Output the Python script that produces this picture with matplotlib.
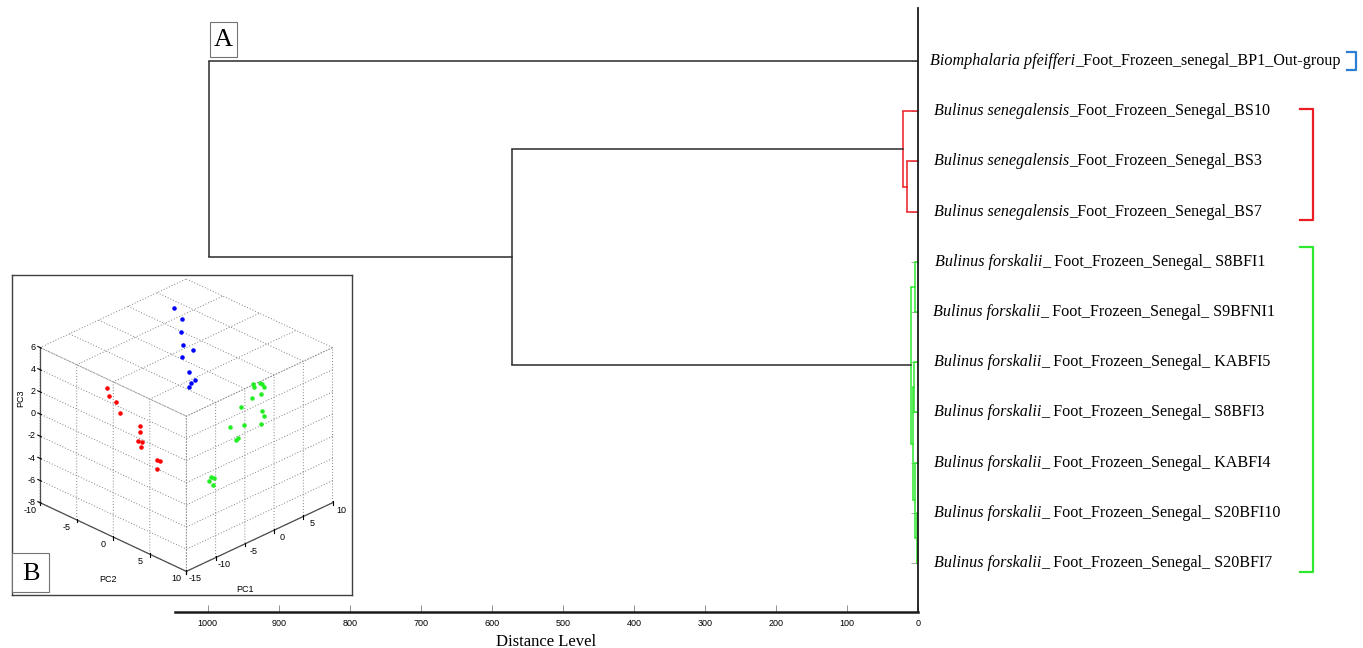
import numpy as np
import matplotlib
matplotlib.use("Agg")
import matplotlib.pyplot as plt
from matplotlib import transforms
from matplotlib.patches import Rectangle
from matplotlib.lines import Line2D
from matplotlib.ticker import NullFormatter
from mpl_toolkits.mplot3d import proj3d

plt.rcParams['font.family'] = ['Liberation Sans', 'DejaVu Sans']
plt.rcParams['axes.unicode_minus'] = False

W, H = 1363, 648
SERIF = 'Liberation Serif'

# leaves of the dendrogram, top to bottom (italic part + plain part)
species = ["Biomphalaria pfeifferi",
           "Bulinus senegalensis", "Bulinus senegalensis", "Bulinus senegalensis",
           "Bulinus forskalii", "Bulinus forskalii", "Bulinus forskalii",
           "Bulinus forskalii", "Bulinus forskalii", "Bulinus forskalii",
           "Bulinus forskalii"]
suffixes = ["_Foot_Frozeen_senegal_BP1_Out-group",
            "_Foot_Frozeen_Senegal_BS10", "_Foot_Frozeen_Senegal_BS3",
            "_Foot_Frozeen_Senegal_BS7",
            "_ Foot_Frozeen_Senegal_ S8BFI1", "_ Foot_Frozeen_Senegal_ S9BFNI1",
            "_ Foot_Frozeen_Senegal_ KABFI5", "_ Foot_Frozeen_Senegal_ S8BFI3",
            "_ Foot_Frozeen_Senegal_ KABFI4", "_ Foot_Frozeen_Senegal_ S20BFI10",
            "_ Foot_Frozeen_Senegal_ S20BFI7"]

# merges: (child a, child b, distance level, colour); ids >= 11 are earlier merges
merges = [
    (2, 3, 16.0, 'red'),      # 11
    (1, 11, 21.5, 'red'),     # 12
    (4, 5, 4.0, 'green'),     # 13
    (6, 7, 5.5, 'green'),     # 14
    (9, 10, 1.5, 'green'),    # 15
    (8, 15, 4.5, 'green'),    # 16
    (14, 16, 7.5, 'green'),   # 17
    (13, 17, 10.3, 'green'),  # 18
    (12, 18, 572.0, 'black'), # 19
    (0, 19, 998.0, 'black'),  # 20
]
distance_ticks = [1000, 900, 800, 700, 600, 500, 400, 300, 200, 100, 0]

# PCA scores (inset B)
pc1_blue = [6.55, 5.1, 2.75, 0.5, 0.4, -1.7, -3.9, -5.7, -4.85, -6.6]
pc2_blue = [-8.9, -6.7, -4.9, -2.9, -1.45, -1.2, 1.5, 3.2, 3.05, 3.6]
pc3_blue = [4.6, 4.6, 4.6, 4.6, 4.6, 4.6, 4.6, 4.6, 4.6, 4.6]

pc1_red = [-12.5, -12.5, -12.5, -12.5, -12.5, -12.5, -12.5, -12.5, -12.5, -12.5, -12.5, -12.5]
pc2_red = [-2.9, -2.55, -1.6, -1.1, 1.65, 1.65, 1.45, 1.95, 1.8, 4.0, 4.35, 4.0]
pc3_red = [3.9, 3.3, 3.1, 2.25, 1.9, 1.35, 0.5, 0.6, 0.1, -0.45, -0.4, -1.2]

pc1_green = [-1.05, -0.9, 0.1, 0.4, 0.7, -1.2, 0.3, -3.2, 0.5, 0.7, -2.6, -5.1,
             0.2, -3.7, -3.95, -8.3, -7.85, -8.7, -7.95]
pc2_green = [8, 8, 8, 8, 8, 8, 8, 8, 8, 8, 8, 8, 8, 8, 8, 8, 8, 8, 8]
pc3_green = [4.8, 4.5, 4.65, 4.5, 4.15, 3.6, 3.55, 3.25, 2.0, 1.5, 1.5, 1.95,
             0.95, 0.65, 0.5, -1.8, -1.95, -2.05, -2.6]

pc1_ticks = [-15, -10, -5, 0, 5, 10]
pc2_ticks = [-10, -5, 0, 5, 10]
pc3_ticks = [-8, -6, -4, -2, 0, 2, 4, 6]

colors = {'black': '#2b2b2b', 'red': '#ec1c24', 'green': '#2ee82e', 'blue': '#2a7fd4'}

fig = plt.figure(figsize=(W / 100, H / 100), dpi=100)

# ---- dendrogram (A)
ax = fig.add_axes([175 / W, 1 - 612 / H, 743 / W, 604 / H])
n = len(species)
ypos = {i: float(i) for i in range(n)}
xpos = {i: 0.0 for i in range(n)}
for k, (a, b, d, c) in enumerate(merges):
    col = colors[c]
    ax.plot([d, d], [ypos[a], ypos[b]], color=col, lw=1.1, solid_capstyle='butt')
    ax.plot([d, xpos[a]], [ypos[a], ypos[a]], color=col, lw=1.1)
    ax.plot([d, xpos[b]], [ypos[b], ypos[b]], color=col, lw=1.1)
    ypos[n + k] = (ypos[a] + ypos[b]) / 2
    xpos[n + k] = d

ax.set_xlim(1046, 0)
ax.set_ylim(n - 1 + 0.976, -1.056)
for s in ['left', 'top']:
    ax.spines[s].set_visible(False)
ax.spines['right'].set_color('#1a1a1a')
ax.spines['right'].set_linewidth(1.3)
ax.spines['bottom'].set_color('#1a1a1a')
ax.spines['bottom'].set_linewidth(1.8)
ax.set_xticks(distance_ticks)
ax.tick_params(axis='x', direction='in', length=5, width=0.6, color='0.5',
               labelsize=6.5, pad=5)
ax.set_yticks(range(n))
ax.tick_params(axis='y', left=False, right=True, direction='in', length=5,
               width=0.6, color='0.6', labelleft=False, labelright=False)
ax.set_xlabel("Distance Level", family=SERIF, fontsize=12, labelpad=4)

offsets = [12, 16, 16, 16, 17, 15, 16, 16, 16, 16, 16]
for i in range(n):
    t1 = ax.annotate(species[i], xy=(0, i), xycoords='data',
                     xytext=(offsets[i] * 0.72, 0), textcoords='offset points',
                     va='center', ha='left', fontstyle='italic', family=SERIF,
                     fontsize=11.65, annotation_clip=False)
    ax.annotate(suffixes[i], xy=(1, 0), xycoords=t1, va='bottom', ha='left',
                family=SERIF, fontsize=11.65, annotation_clip=False)

# cluster brackets
bt = transforms.blended_transform_factory(ax.transAxes, ax.transData)
brackets = [(1.578, 1.589, -0.17, 0.17, 'blue'),
            (1.514, 1.532, 0.96, 3.17, 'red'),
            (1.514, 1.532, 3.7, 10.18, 'green')]
for x0, x1, y0, y1, c in brackets:
    ax.add_line(Line2D([x0, x1, x1, x0], [y0, y0, y1, y1], transform=bt,
                       color=colors[c], lw=1.6, clip_on=False))

# ---- PCA inset (B)
frame = fig.add_axes([12 / W, 1 - 595 / H, 340 / W, 320 / H])
frame.set_xticks([])
frame.set_yticks([])
for s in frame.spines.values():
    s.set_color('0.25')
    s.set_linewidth(1.0)

ax3 = fig.add_axes([-3.5 / W, 1 - 610 / H, 370 / W, 360 / H], projection='3d')
ax3.set_proj_type('ortho')
ax3.view_init(elev=-28, azim=-45)
ax3.set_box_aspect((1, 1, 0.85), zoom=0.92)
ax3.patch.set_alpha(0)
ax3.scatter(pc1_blue, pc2_blue, pc3_blue, s=5, c='#0000ff', depthshade=False)
ax3.scatter(pc1_red, pc2_red, pc3_red, s=5, c='#ff0000', depthshade=False)
ax3.scatter(pc1_green, pc2_green, pc3_green, s=5, c='#22ee22', depthshade=False)
ax3.set_xlim(-15, 10)
ax3.set_ylim(-10, 10)
ax3.set_zlim(-8, 6)
ax3.set_xticks(pc1_ticks)
ax3.set_yticks(pc2_ticks)
ax3.set_zticks(pc3_ticks)
for axis in (ax3.xaxis, ax3.yaxis, ax3.zaxis):
    axis.set_major_formatter(NullFormatter())
    for t in axis.get_major_ticks():
        t.label1.set_visible(False)
        t.label2.set_visible(False)
    axis.set_pane_color((1, 1, 1, 0))
    axis.pane.set_edgecolor((1, 1, 1, 0))
    axis.line.set_color('0.3')
    axis.line.set_linewidth(0.9)
    axis._axinfo['grid'].update(color='0.5', linewidth=0.7, linestyle=(0, (1, 2)))
    axis.set_ticks_position('lower')

# panel letters
for (x0, y0, w, h, letter) in [(210, 22, 27, 35, 'A'), (12, 553, 37, 39, 'B')]:
    fig.add_artist(Rectangle((x0 / W, 1 - (y0 + h) / H), w / W, h / H,
                             transform=fig.transFigure, fc='white', ec='0.45', lw=0.8))
    fig.text((x0 + w / 2) / W, 1 - (y0 + h / 2 + 1) / H, letter, ha='center',
             va='center', family=SERIF, fontsize=19)

# tick labels placed MATLAB-style: project the 3D spot, then write plain 2D text
fig.canvas.draw()
to_fig = fig.transFigure.inverted()


def label3d(x, y, z, s, **kw):
    px, py, _ = proj3d.proj_transform(x, y, z, ax3.M)
    fx, fy = to_fig.transform(ax3.transData.transform((px, py)))
    fig.text(fx, fy, s, fontsize=6.5, va='center', **kw)


for v in pc1_ticks:
    label3d(v, 11.16, -8.3, str(v), ha='center')
for v in pc2_ticks:
    label3d(-16.66, v, -8.25, str(v), ha='center')
for v in pc3_ticks:
    label3d(-15.35, -10.35, v, str(v), ha='right')
label3d(-5, 10, -12.1, 'PC1', ha='center')
label3d(-15.9, 0, -11.6, 'PC2', ha='center')
label3d(-16.45, -11.45, 1.3, 'PC3', ha='center', rotation=90)

fig.savefig('out.png', dpi=100)
